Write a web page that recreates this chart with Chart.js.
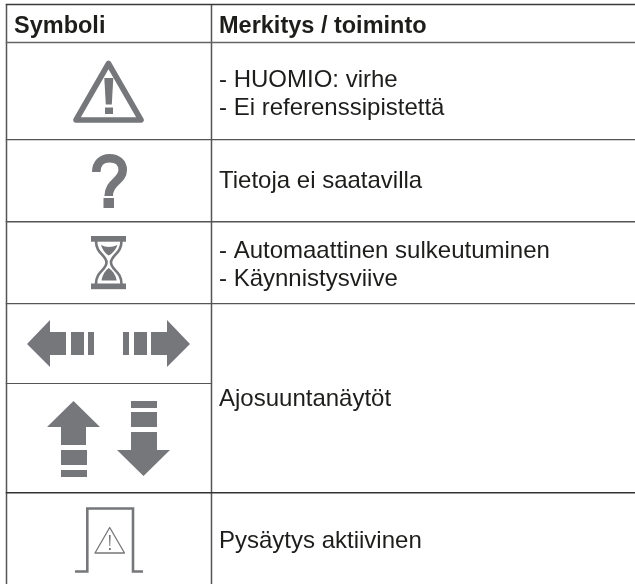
<!DOCTYPE html>
<html lang="fi">
<head>
<meta charset="utf-8">
<title>Symbolit</title>
<script src="https://cdn.jsdelivr.net/npm/chart.js@4"></script>
<style>
html,body{margin:0;padding:0;background:#fff}
canvas{display:block}
</style>
</head>
<body>
<canvas id="c" width="635" height="584"></canvas>
<script>
// Table content
const headers = ["Symboli", "Merkitys / toiminto"];
const symbols = ["warning", "question", "hourglass", "horizontal", "vertical", "stop"];
const meanings = [
  ["- HUOMIO: virhe", "- Ei referenssipistettä"],
  ["Tietoja ei saatavilla"],
  ["- Automaattinen sulkeutuminen", "- Käynnistysviive"],
  ["Ajosuuntanäytöt"],
  ["Pysäytys aktiivinen"]
];

// Layout, in page units of the two hidden linear scales
const W = 635, H = 584;
const GREY = "#76777a", INK = "#1d1d1b";
const FS_HEAD = 23.5, FS_BODY = 24;
const colX = [6.5, 211.5];
const textX = [14, 219];
const headBase = 32.5;
const meaningBase = [[86.8, 115], [188], [257.7, 286], [406], [548.3]];
const rules = [
  {y: 4.5,   x2: W, c: "#3a3a3a", w: 1.4},
  {y: 42.5,  x2: W, c: "#666", w: 1.6},
  {y: 139.7, x2: W, c: "#555", w: 1.3},
  {y: 221.7, x2: W, c: "#555", w: 1.5},
  {y: 303.7, x2: W, c: "#555", w: 1.2},
  {y: 383.5, x2: colX[1], c: "#555", w: 1.2},
  {y: 492.8, x2: W, c: "#333", w: 1.5}
];

function poly(g, sx, sy, pts){
  g.beginPath();
  pts.forEach((p,i)=> i ? g.lineTo(sx(p[0]),sy(p[1])) : g.moveTo(sx(p[0]),sy(p[1])));
  g.closePath(); g.fill();
}
const painters = {
  warning(g,sx,sy){
    g.strokeStyle=GREY; g.lineWidth=5.6; g.lineJoin="round";
    g.beginPath(); g.moveTo(sx(108.5),sy(63.5)); g.lineTo(sx(141),sy(120)); g.lineTo(sx(76),sy(120)); g.closePath(); g.stroke();
    g.fillStyle=GREY;
    poly(g,sx,sy,[[104.3,78],[113.3,78],[111.8,104.5],[105.8,104.5]]);
    g.fillRect(sx(105),sy(107.5),8,6.5);
  },
  question(g,sx,sy){
    g.strokeStyle=GREY; g.fillStyle=GREY; g.lineWidth=8.6; g.lineCap="butt"; g.lineJoin="round";
    g.beginPath();
    g.moveTo(sx(96.3),sy(172));
    g.bezierCurveTo(sx(96.3),sy(163),sx(102),sy(158.3),sx(109.5),sy(158.3));
    g.bezierCurveTo(sx(117.5),sy(158.3),sx(122.7),sy(163),sx(122.7),sy(170));
    g.bezierCurveTo(sx(122.7),sy(181),sx(108.7),sy(182),sx(108.7),sy(196));
    g.stroke();
    g.fillRect(sx(103.5),sy(198),10.5,10);
  },
  hourglass(g,sx,sy){
    g.fillStyle=GREY; g.strokeStyle=GREY;
    g.fillRect(sx(91),sy(236),35,5.7);
    g.fillRect(sx(91),sy(283.5),35,5.7);
    g.lineWidth=2.6;
    g.beginPath();
    g.moveTo(sx(96),sy(241));
    g.bezierCurveTo(sx(96),sy(254),sx(106.5),sy(255),sx(106.5),sy(262.5));
    g.bezierCurveTo(sx(106.5),sy(270),sx(96),sy(271),sx(96),sy(284));
    g.moveTo(sx(121.5),sy(241));
    g.bezierCurveTo(sx(121.5),sy(254),sx(111),sy(255),sx(111),sy(262.5));
    g.bezierCurveTo(sx(111),sy(270),sx(121.5),sy(271),sx(121.5),sy(284));
    g.stroke();
    g.beginPath();
    g.moveTo(sx(101),sy(245)); g.quadraticCurveTo(sx(108.7),sy(249),sx(117.5),sy(245));
    g.quadraticCurveTo(sx(115),sy(252),sx(108.7),sy(255.5)); g.quadraticCurveTo(sx(103),sy(252),sx(101),sy(245));
    g.fill();
    g.beginPath();
    g.moveTo(sx(108.7),sy(268)); g.quadraticCurveTo(sx(115),sy(272),sx(116.7),sy(280.5));
    g.lineTo(sx(101.5),sy(280.5)); g.quadraticCurveTo(sx(103),sy(272),sx(108.7),sy(268));
    g.fill();
  },
  horizontal(g,sx,sy){
    g.fillStyle=GREY;
    poly(g,sx,sy,[[27,344],[50,320],[50,332],[66,332],[66,355],[50,355],[50,367]]);
    g.fillRect(sx(71),sy(332),13,23); g.fillRect(sx(88),sy(332),6,23);
    poly(g,sx,sy,[[190,344],[167,320],[167,332],[151,332],[151,355],[167,355],[167,367]]);
    g.fillRect(sx(134),sy(332),13,23); g.fillRect(sx(123),sy(332),6,23);
  },
  vertical(g,sx,sy){
    g.fillStyle=GREY;
    poly(g,sx,sy,[[73.5,401],[100,427],[86,427],[86,445],[61,445],[61,427],[47,427]]);
    g.fillRect(sx(61),sy(450),26,15); g.fillRect(sx(61),sy(470),26,7);
    poly(g,sx,sy,[[143.5,476],[170,450],[157,450],[157,432],[131,432],[131,450],[117,450]]);
    g.fillRect(sx(131),sy(412),26,15); g.fillRect(sx(131),sy(401),26,7);
  },
  stop(g,sx,sy){
    g.strokeStyle=GREY; g.fillStyle=GREY; g.lineWidth=2.6; g.lineJoin="miter";
    g.beginPath();
    g.moveTo(sx(75),sy(571.5)); g.lineTo(sx(87.3),sy(571.5)); g.lineTo(sx(87.3),sy(508.5));
    g.lineTo(sx(133),sy(508.5)); g.lineTo(sx(133),sy(571.5)); g.lineTo(sx(143),sy(571.5));
    g.stroke();
    g.lineWidth=1.3; g.lineJoin="round";
    g.beginPath(); g.moveTo(sx(109.7),sy(527.5)); g.lineTo(sx(124.5),sy(553)); g.lineTo(sx(95),sy(553)); g.closePath(); g.stroke();
    poly(g,sx,sy,[[108.9,535],[110.7,535],[110.2,546],[109.4,546]]);
    g.fillRect(sx(109),sy(548),1.8,2);
  }
};

const tablePlugin = {
  id: "symbolTable",
  afterDraw(chart){
    const g = chart.ctx;
    const sx = v => chart.scales.x.getPixelForValue(v);
    const sy = v => chart.scales.y.getPixelForValue(v);
    g.save();
    g.fillStyle = "#fff"; g.fillRect(0,0,W,H);
    g.strokeStyle = "#555"; g.lineWidth = 1.5;
    colX.forEach(x => { g.beginPath(); g.moveTo(sx(x),sy(4)); g.lineTo(sx(x),sy(H)); g.stroke(); });
    rules.forEach(r => {
      g.strokeStyle = r.c; g.lineWidth = r.w;
      g.beginPath(); g.moveTo(sx(colX[0]-0.7),sy(r.y)); g.lineTo(sx(r.x2),sy(r.y)); g.stroke();
    });
    g.textAlign = "left"; g.textBaseline = "alphabetic"; g.fillStyle = INK;
    g.font = "bold "+FS_HEAD+"px 'Liberation Sans'";
    headers.forEach((t,i) => g.fillText(t, sx(textX[i]), sy(headBase)));
    g.font = FS_BODY+"px 'Liberation Sans'";
    meanings.forEach((lines,i) => lines.forEach((t,j) => g.fillText(t, sx(textX[1]), sy(meaningBase[i][j]))));
    symbols.forEach(s => { g.save(); painters[s](g,sx,sy); g.restore(); });
    g.restore();
  }
};

new Chart(document.getElementById("c"), {
  type: "scatter",
  data: { labels: symbols, datasets: [{ label: headers[0], data: [] }] },
  options: {
    responsive: false, animation: false, events: [],
    layout: { padding: 0 },
    plugins: { legend: {display:false}, tooltip: {enabled:false}, title: {display:false} },
    scales: {
      x: { type:"linear", min:0, max:W, display:false },
      y: { type:"linear", min:0, max:H, reverse:true, display:false }
    }
  },
  plugins: [tablePlugin]
});
</script>
</body>
</html>
